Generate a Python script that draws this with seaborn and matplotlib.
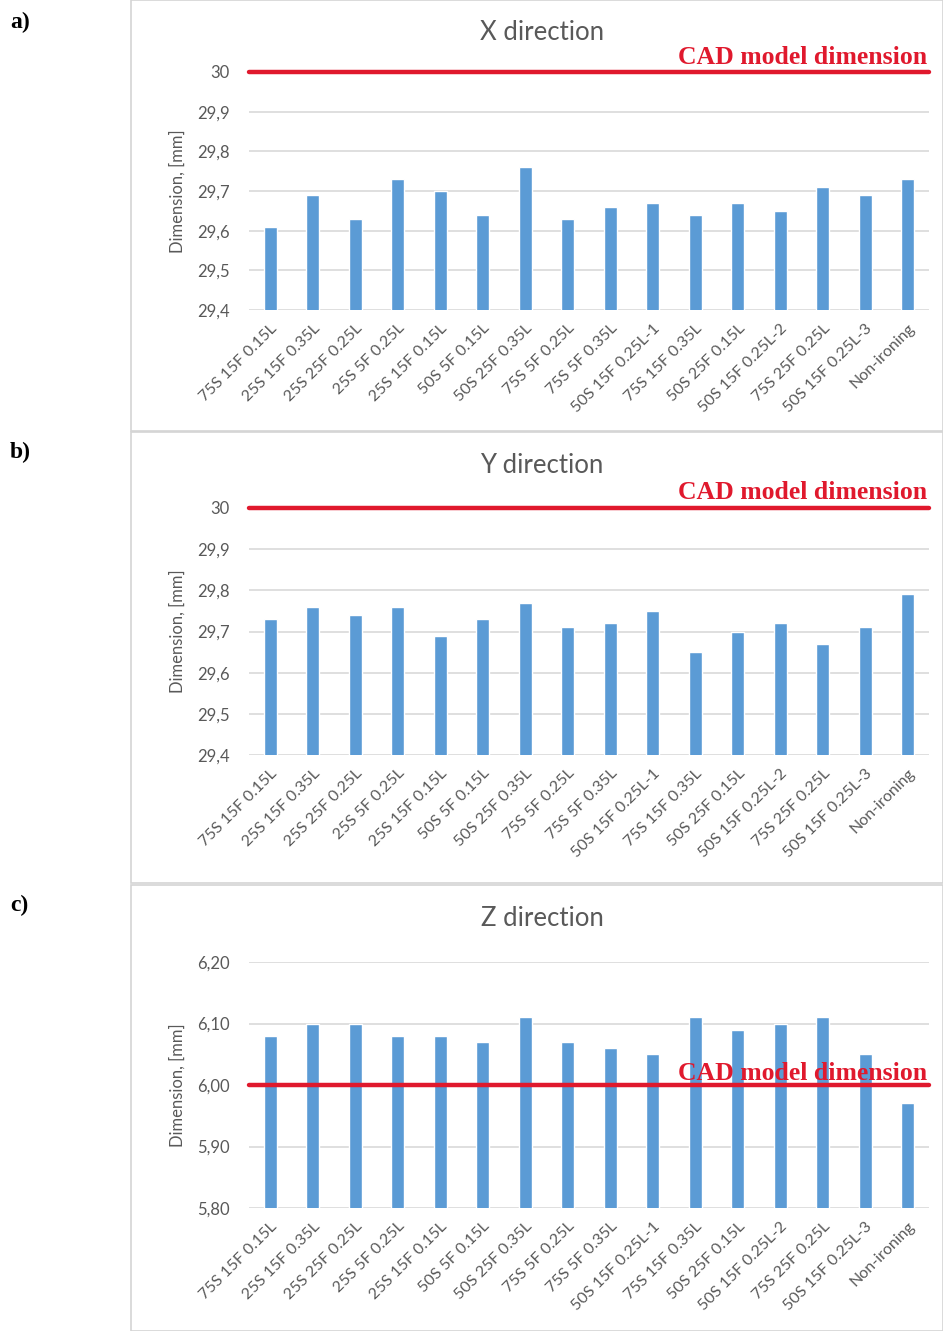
import matplotlib
matplotlib.use('Agg')
import matplotlib.pyplot as plt
import seaborn as sns
from matplotlib.patches import Rectangle

categories = ['75S 15F 0.15L', '25S 15F 0.35L', '25S 25F 0.25L', '25S 5F 0.25L',
              '25S 15F 0.15L', '50S 5F 0.15L', '50S 25F 0.35L', '75S 5F 0.25L',
              '75S 5F 0.35L', '50S 15F 0.25L-1', '75S 15F 0.35L', '50S 25F 0.15L',
              '50S 15F 0.25L-2', '75S 25F 0.25L', '50S 15F 0.25L-3', 'Non-ironing']

x_dim = [29.61, 29.69, 29.63, 29.73, 29.70, 29.64, 29.76, 29.63,
         29.66, 29.67, 29.64, 29.67, 29.65, 29.71, 29.69, 29.73]
y_dim = [29.73, 29.76, 29.74, 29.76, 29.69, 29.73, 29.77, 29.71,
         29.72, 29.75, 29.65, 29.70, 29.72, 29.67, 29.71, 29.79]
z_dim = [6.08, 6.10, 6.10, 6.08, 6.08, 6.07, 6.11, 6.07,
         6.06, 6.05, 6.11, 6.09, 6.10, 6.11, 6.05, 5.97]

xy_ticks = [29.4, 29.5, 29.6, 29.7, 29.8, 29.9, 30.0]
xy_ticklabels = ['29,4', '29,5', '29,6', '29,7', '29,8', '29,9', '30']
z_ticks = [5.80, 5.90, 6.00, 6.10, 6.20]
z_ticklabels = ['5,80', '5,90', '6,00', '6,10', '6,20']

cad_xy = 30.0
cad_z = 6.00

titles = ['X direction', 'Y direction', 'Z direction']
letters = ['a)', 'b)', 'c)']

sns.set_style('white')
plt.rcParams['font.family'] = ['Lato', 'DejaVu Sans']

bar_col = '#5b9bd5'
red = '#e0192d'
grey_txt = '#595959'

fig = plt.figure(figsize=(9.43, 13.31), dpi=100)

# panel frames (in pixels of the 943x1331 canvas)
frames = [(131, 0, 812, 431), (131, 432, 812, 451), (131, 885, 812, 446)]
for fx, fy, fw, fh in frames:
    fig.add_artist(Rectangle((fx / 943, 1 - (fy + fh) / 1331), fw / 943, fh / 1331,
                             transform=fig.transFigure, fill=False,
                             edgecolor='#d4d4d4', lw=1.2))

panels = [
    (x_dim, xy_ticks, xy_ticklabels, cad_xy, (29.4, 30.0), 72, 310, 57),
    (y_dim, xy_ticks, xy_ticklabels, cad_xy, (29.4, 30.0), 508, 755, 492),
    (z_dim, z_ticks, z_ticklabels, cad_z, (5.80, 6.20), 962, 1208, 1073),
]

title_y = [33, 466, 918]
letter_y = [22, 452, 905]

for i, (vals, ticks, tlabels, cad, ylim, top, bot, cad_txt_y) in enumerate(panels):
    ax = fig.add_axes([249 / 943, 1 - bot / 1331, 680 / 943, (bot - top) / 1331])
    sns.barplot(x=categories, y=vals, color=bar_col, width=0.3, saturation=1, ax=ax)
    ax.set_ylim(*ylim)
    ax.set_yticks(ticks)
    ax.set_yticklabels(tlabels, color=grey_txt, fontsize=12)
    ax.yaxis.grid(True, color='#d9d9d9', lw=1.2)
    ax.set_axisbelow(True)
    for s in ax.spines.values():
        s.set_visible(False)
    ax.tick_params(axis='y', length=0, pad=14)
    ax.tick_params(axis='x', length=0, pad=8)
    ax.set_xticks(range(len(categories)))
    ax.set_xticklabels(categories, rotation=45, ha='right', rotation_mode='anchor',
                       color=grey_txt, fontsize=11.5)
    ax.set_ylabel('Dimension, [mm]', color=grey_txt, fontsize=12, labelpad=8)
    ax.axhline(cad, color=red, lw=3.2, clip_on=False, zorder=5)

    fig.text(542 / 943, 1 - title_y[i] / 1331, titles[i], ha='center', va='center',
             fontsize=18.5, color=grey_txt)
    fig.text(927 / 943, 1 - cad_txt_y / 1331, 'CAD model dimension', ha='right',
             va='center', fontsize=18.5, fontweight='bold', color=red,
             family=['Liberation Serif'], zorder=6)
    fig.text(10 / 943, 1 - letter_y[i] / 1331, letters[i], ha='left', va='center',
             fontsize=17, fontweight='bold', color='black', family=['Liberation Serif'])

fig.savefig('out.png', dpi=100)
